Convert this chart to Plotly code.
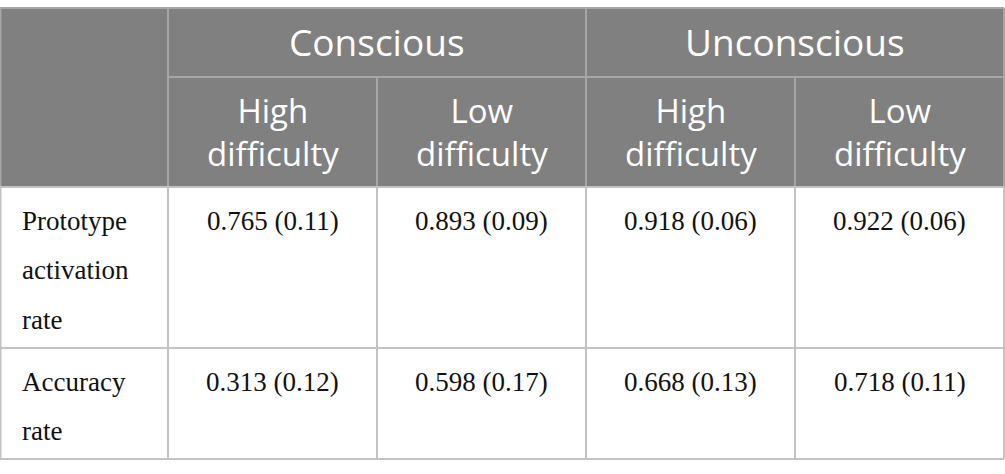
import plotly.graph_objects as go

# table content
groups = ["Conscious", "Unconscious"]
conditions = ["High<br>difficulty", "Low<br>difficulty"]
row_labels = [["Prototype", "activation", "rate"], ["Accuracy", "rate"]]
means = [[0.765, 0.893, 0.918, 0.922],
         [0.313, 0.598, 0.668, 0.718]]
sds = [[0.11, 0.09, 0.06, 0.06],
       [0.12, 0.17, 0.13, 0.11]]

# geometry in pixel-like axis units
W, H = 1005, 474
col_edges = [0, 168, 377, 586, 795, 1004]
row_edges = [8, 77, 187, 348, 459]
header_fill = "#808080"
head_line = "#a6a6a6"
body_line = "#c3c3c3"
sans = "Open Sans"
serif = "Liberation Serif"

fig = go.Figure()
shapes = []
annotations = []


def line(x0, y0, x1, y1, color):
    shapes.append(dict(type="line", xref="x", yref="y", x0=x0, y0=y0, x1=x1, y1=y1,
                       line=dict(color=color, width=2), layer="above"))


def text(x, baseline, s, size, font, color, anchor="center"):
    # text box bottom sits just under the baseline (descent + pad)
    desc = 0.293 if font == sans else 0.216
    annotations.append(dict(x=x, y=baseline + desc * size + 1, xref="x", yref="y",
                            text=s, showarrow=False, xanchor=anchor, yanchor="bottom",
                            align="center" if anchor == "center" else "left",
                            font=dict(family=font, size=size, color=color)))


# header background
shapes.append(dict(type="rect", xref="x", yref="y", x0=col_edges[0], x1=col_edges[-1],
                   y0=row_edges[0], y1=row_edges[2], fillcolor=header_fill,
                   line=dict(width=0), layer="below"))

# header lines
line(col_edges[0], row_edges[0], col_edges[-1], row_edges[0], head_line)
line(col_edges[1], row_edges[1], col_edges[-1], row_edges[1], head_line)
for c in [1, 3]:
    line(col_edges[c], row_edges[0], col_edges[c], row_edges[2], head_line)
for c in [2, 4]:
    line(col_edges[c], row_edges[1], col_edges[c], row_edges[2], head_line)
line(col_edges[-1], row_edges[0], col_edges[-1], row_edges[2], head_line)
line(col_edges[0] + 0.5, row_edges[0], col_edges[0] + 0.5, row_edges[2], head_line)

# body lines
for r in [2, 3, 4]:
    line(col_edges[0], row_edges[r], col_edges[-1], row_edges[r], body_line)
for c in range(len(col_edges)):
    x = col_edges[c] + (0.5 if c == 0 else 0)
    line(x, row_edges[2], x, row_edges[4], body_line)

# header texts
for g, name in enumerate(groups):
    xc = (col_edges[1 + 2 * g] + col_edges[3 + 2 * g]) / 2
    text(xc, 57, name, 37, sans, "white")
for c in range(4):
    xc = (col_edges[c + 1] + col_edges[c + 2]) / 2
    text(xc, 167, conditions[c % 2], 33, sans, "white")

# body texts
for r, labels in enumerate(row_labels):
    base = row_edges[r + 2] + 44
    for k, s in enumerate(labels):
        text(col_edges[0] + 20, base + 49.5 * k, s, 27, serif, "#111111", anchor="left")
    for c in range(4):
        xc = (col_edges[c + 1] + col_edges[c + 2]) / 2
        text(xc, base, "%.3f (%.2f)" % (means[r][c], sds[r][c]), 27, serif, "#111111")

fig.update_layout(
    width=W, height=H,
    margin=dict(l=0, r=0, t=0, b=0),
    paper_bgcolor="white", plot_bgcolor="white",
    xaxis=dict(range=[0, W], visible=False, fixedrange=True),
    yaxis=dict(range=[H, 0], visible=False, fixedrange=True),
    shapes=shapes, annotations=annotations,
    showlegend=False,
)

fig.write_html("out.html", config={"displayModeBar": False},
               post_script="document.body.style.margin='0';")
